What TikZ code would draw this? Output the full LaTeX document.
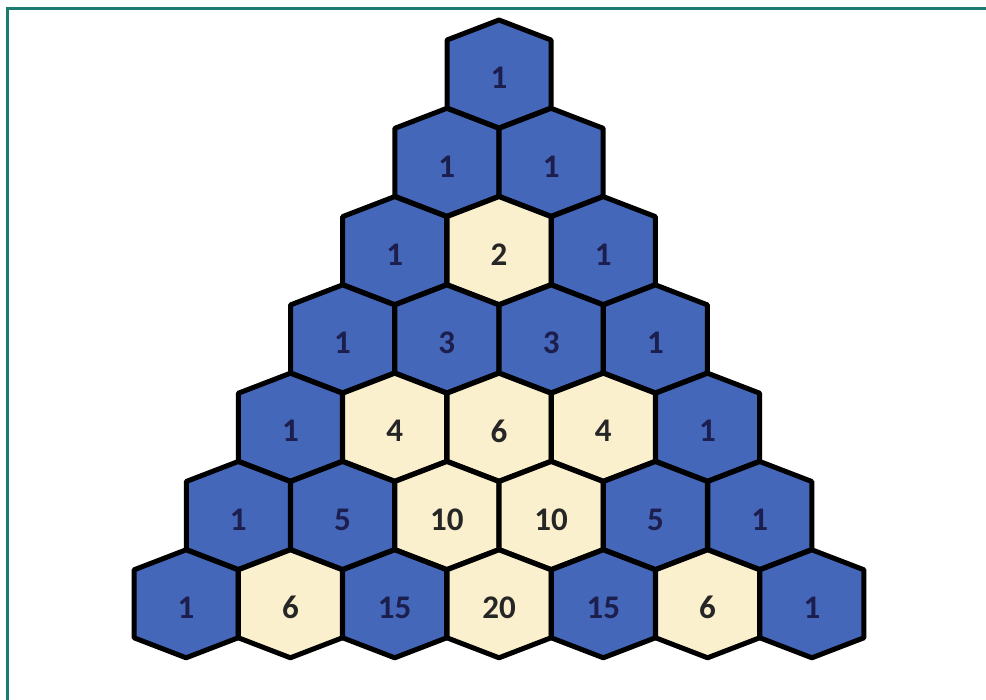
\documentclass[tikz,border=0pt]{standalone}
\usepackage{fontspec}
\setmainfont{Carlito}
\definecolor{hexblue}{HTML}{4567B9}
\definecolor{hexcream}{HTML}{FBF0CE}
\definecolor{txtblue}{HTML}{1C1E4E}
\definecolor{txtdark}{HTML}{262626}
\definecolor{framecol}{HTML}{1E7B70}
\tikzset{
  hexcell/.style={line width=5pt, draw=black, line join=round},
  B/.style={hexcell, fill=hexblue},
  C/.style={hexcell, fill=hexcream},
  lblB/.style={font=\fontsize{33}{33}\selectfont\bfseries, text=txtblue, inner sep=0pt},
  lblC/.style={font=\fontsize{33}{33}\selectfont\bfseries, text=txtdark, inner sep=0pt},
  framestyle/.style={draw=framecol, line width=3pt}
}
\begin{document}
\begin{tikzpicture}[x=1pt,y=-1pt]
\useasboundingbox (0,0) rectangle (986,700);
\draw[framestyle] (7,700) -- (7,9) -- (986,9);
\foreach \r/\k/\v/\c in {
  0/0/1/B,
  1/0/1/B, 1/1/1/B,
  2/0/1/B, 2/1/2/C, 2/2/1/B,
  3/0/1/B, 3/1/3/B, 3/2/3/B, 3/3/1/B,
  4/0/1/B, 4/1/4/C, 4/2/6/C, 4/3/4/C, 4/4/1/B,
  5/0/1/B, 5/1/5/B, 5/2/10/C, 5/3/10/C, 5/4/5/B, 5/5/1/B,
  6/0/1/B, 6/1/6/C, 6/2/15/B, 6/3/20/C, 6/4/15/B, 6/5/6/C, 6/6/1/B}
{
  \pgfmathsetmacro{\cx}{499+(\k-\r/2)*104.3}
  \pgfmathsetmacro{\cy}{74+\r*88.3}
  \draw[\c] (\cx,\cy-54) -- (\cx+52,\cy-34) -- (\cx+52,\cy+34) -- (\cx,\cy+54)
    -- (\cx-52,\cy+34) -- (\cx-52,\cy-34) -- cycle;
  \node[lbl\c] (h\r\k) at (\cx,\cy+4) {\v};
}
\end{tikzpicture}
\end{document}
